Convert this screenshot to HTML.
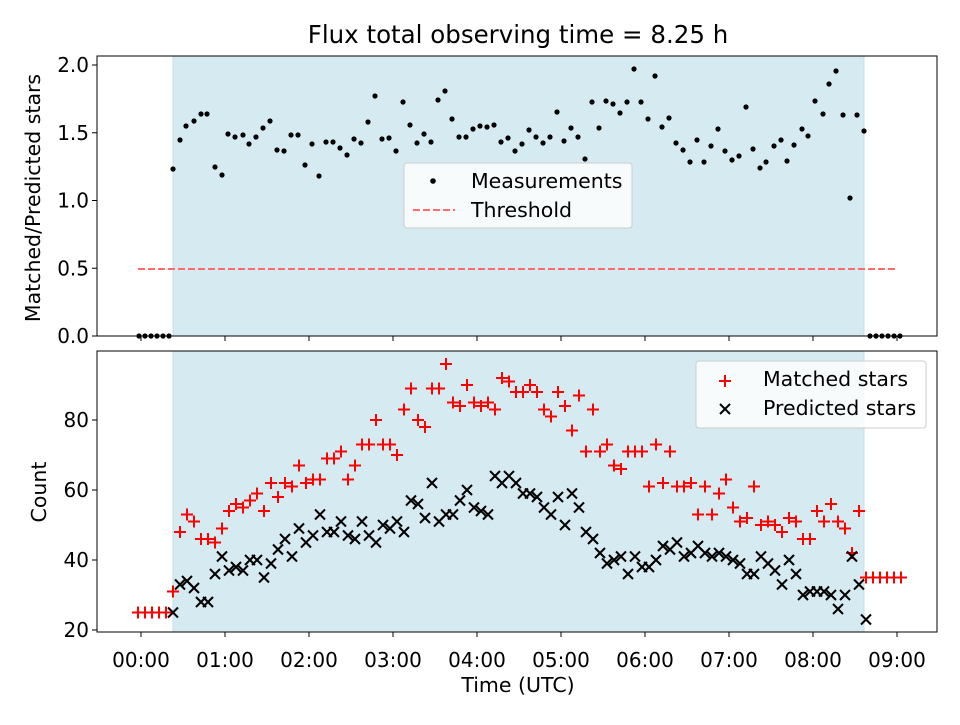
<!DOCTYPE html>
<html><head><meta charset="utf-8"><style>
body{margin:0;background:#fff}
svg text{font-family:"DejaVu Sans","Liberation Sans",sans-serif;fill:#000}
</style></head><body>
<svg id="s" width="960" height="720" xmlns="http://www.w3.org/2000/svg">
<rect width="960" height="720" fill="#fff"/>
<rect x="173" y="56" width="691" height="280" fill="#d6ebf1" stroke="#c4e0e9"/>
<rect x="173" y="351" width="691" height="281" fill="#d6ebf1" stroke="#c4e0e9"/>
<line x1="138" y1="269" x2="897" y2="269" stroke="#ff6a6a" stroke-width="2" stroke-dasharray="7,3"/>
<g id="gtop"></g><g id="gbot"></g><g id="gax"></g>
<rect x="97" y="56" width="840" height="280" fill="none" stroke="#000" stroke-width="1"/>
<rect x="97" y="351" width="840" height="281" fill="none" stroke="#000" stroke-width="1"/>
<text x="518" y="43" font-size="24.5" text-anchor="middle">Flux total observing time = 8.25 h</text>
<text transform="translate(40,198) rotate(-90)" font-size="20.5" text-anchor="middle">Matched/Predicted stars</text>
<text transform="translate(46,492) rotate(-90)" font-size="20.5" text-anchor="middle">Count</text>
<text x="518" y="692" font-size="20.5" text-anchor="middle">Time (UTC)</text>
<rect x="404" y="163" width="228" height="65" rx="3" fill="#fff" fill-opacity="0.8" stroke="#ccc"/>
<circle cx="433" cy="181" r="2.8" fill="#000"/>
<text x="471" y="188" font-size="20.5">Measurements</text>
<line x1="413" y1="210" x2="455" y2="210" stroke="#ff6a6a" stroke-width="2" stroke-dasharray="7,3"/>
<text x="471" y="217" font-size="20.5">Threshold</text>
<rect x="696" y="361" width="230" height="67" rx="3" fill="#fff" fill-opacity="0.8" stroke="#ccc"/>
<g stroke="red" stroke-width="2"><line x1="719" y1="381" x2="731" y2="381"/><line x1="725" y1="375" x2="725" y2="387"/></g>
<g stroke="#000" stroke-width="2"><line x1="720" y1="404" x2="730" y2="414"/><line x1="720" y1="414" x2="730" y2="404"/></g>
<text x="763" y="386" font-size="20.5">Matched stars</text>
<text x="763" y="415" font-size="20.5">Predicted stars</text>
</svg>
<script>
(function(){
var NS="http://www.w3.org/2000/svg";
function el(p,t,a,txt){var e=document.createElementNS(NS,t);for(var k in a)e.setAttribute(k,a[k]);if(txt!==undefined)e.textContent=txt;p.appendChild(e);return e;}
var gt=document.getElementById('gtop'),gb=document.getElementById('gbot'),ga=document.getElementById('gax');
var tp=[[173,169],[180,140],[186,126],[194,121],[201,114],[207,114],[215,167],[222,175],[228,134],[235,137],[243,135],[249,144],[256,137],[263,128],[270,121],[277,150],[284,151],[291,135],[298,135],[305,165],[312,144],[319,176],[326,142],[333,142],[340,148],[347,155],[354,139],[361,143],[368,122],[375,96],[382,139],[389,138],[396,151],[403,102],[410,125],[417,143],[424,134],[431,142],[438,100],[445,91],[452,119],[459,137],[466,137],[473,129],[480,126],[487,127],[494,125],[501,142],[508,138],[515,151],[522,144],[529,130],[536,137],[543,143],[550,137],[557,112],[564,141],[571,128],[578,137],[585,159],[592,102],[599,128],[606,101],[613,104],[620,113],[627,102],[634,69],[641,102],[648,119],[655,76],[662,127],[669,118],[676,143],[683,150],[690,162],[697,140],[704,162],[711,146],[718,129],[725,151],[732,160],[739,156],[746,107],[753,149],[760,168],[766,162],[774,146],[781,140],[787,161],[794,145],[802,129],[808,136],[815,101],[823,114],[829,84],[836,71],[843,115],[850,198],[857,115],[864,131]];
[139,145,151,157,163,169,870,876,882,888,894,900].forEach(function(x){tp.push([x,336]);});
tp.forEach(function(p){el(gt,'circle',{cx:p[0],cy:p[1],r:2.6,fill:'#000'});});
var m=[31,48,53,51,46,46,45,49,54,56,55,57,59,54,62,58,62,61,67,62,63,63,69,69,71,63,67,73,73,80,73,73,70,83,89,80,78,89,89,96,85,84,90,85,84,85,83,92,91,88,88,90,88,83,81,88,84,77,87,71,83,71,73,67,66,71,71,71,61,73,62,71,61,61,62,53,61,53,59,63,55,51,52,61,50,51,50,48,52,51,46,46,54,51,56,51,49,42,54];
var pr=[25,33,34,32,28,28,36,41,37,38,37,40,40,35,39,43,46,41,49,45,47,53,48,48,51,47,46,51,47,45,50,49,51,48,57,56,52,62,51,53,53,57,60,55,54,53,64,62,64,62,59,59,58,55,53,58,50,59,55,48,46,42,39,40,41,36,41,38,38,40,44,43,45,41,42,44,42,41,42,41,40,39,36,36,41,39,37,33,40,36,30,31,31,31,30,26,30,41,33,23];
function Y(v){return 630-(v-20)*3.5;}
function plus(x,y){var g=el(gb,'g',{stroke:'red','stroke-width':2});el(g,'line',{x1:x-6,y1:y,x2:x+6,y2:y});el(g,'line',{x1:x,y1:y-6,x2:x,y2:y+6});}
function cross(x,y){var g=el(gb,'g',{stroke:'#000','stroke-width':2});el(g,'line',{x1:x-5,y1:y-5,x2:x+5,y2:y+5});el(g,'line',{x1:x-5,y1:y+5,x2:x+5,y2:y-5});}
[138,145,152,159,166].forEach(function(x){plus(x,Y(25));});
[866,873,880,887,894,901].forEach(function(x){plus(x,Y(35));});
m.forEach(function(v,i){plus(173+7*i,Y(v));});
pr.forEach(function(v,i){cross(173+7*i,Y(v));});
for(var h=0;h<=9;h++){var x=141+84*h;
 el(ga,'line',{x1:x,y1:336,x2:x,y2:341,stroke:'#000'});
 el(ga,'line',{x1:x,y1:632,x2:x,y2:637,stroke:'#000'});
 el(ga,'text',{x:x,y:667,'font-size':20,'text-anchor':'middle'},'0'+h+':00');}
for(var i=0;i<=4;i++){var v=i*0.5,y=336-135.5*v;
 el(ga,'line',{x1:92,y1:y,x2:97,y2:y,stroke:'#000'});
 el(ga,'text',{x:89,y:y+7,'font-size':20,'text-anchor':'end'},v.toFixed(1));}
[20,40,60,80].forEach(function(v){var y=Y(v);
 el(ga,'line',{x1:92,y1:y,x2:97,y2:y,stroke:'#000'});
 el(ga,'text',{x:89,y:y+7,'font-size':20,'text-anchor':'end'},String(v));});
})();
</script>
</body></html>
